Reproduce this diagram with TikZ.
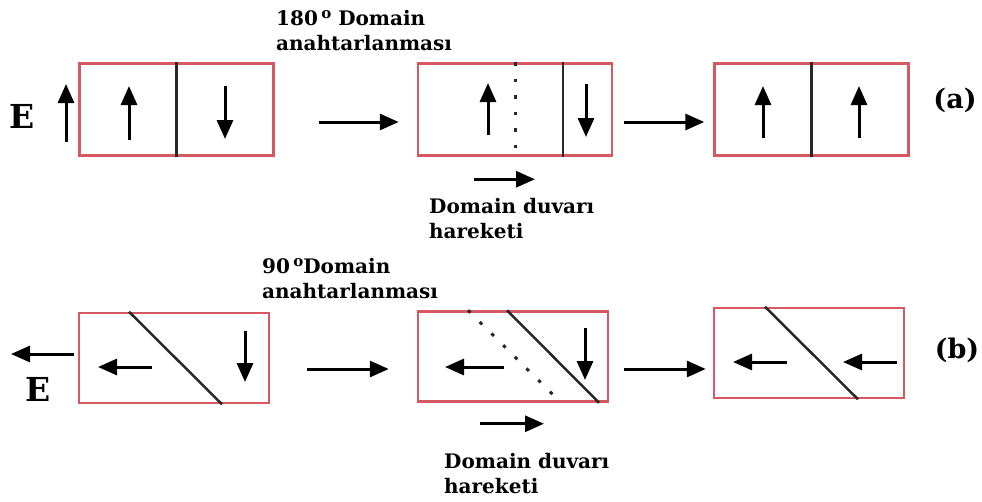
\documentclass[tikz,border=0pt]{standalone}
\usepackage{fontspec}
\setmainfont{DejaVu Serif}
\usetikzlibrary{arrows.meta}
\definecolor{WallRed}{RGB}{214,88,96}
\definecolor{WallInk}{RGB}{40,40,40}
\newcommand{\degsign}{\raisebox{0.38em}{\fontsize{15}{15}\selectfont o}}

\begin{document}
\begin{tikzpicture}[x=1pt, y=-1pt,
    dbox/.style={rectangle, draw=WallRed, line width=2.5pt, inner sep=0pt,
                 minimum width=194pt, minimum height=92pt},
    dboxb/.style={dbox, minimum width=190pt, minimum height=90pt},
    wall/.style={draw=WallInk, line width=2.5pt},
    oldwall/.style={wall, line width=3pt, dash pattern=on 3.5pt off 13pt},
    pol/.style={-{Triangle[length=19pt,width=16pt]}, line width=3pt},
    lbl/.style={align=left, inner sep=0pt, anchor=north west,
                font=\fontsize{20}{25}\selectfont\bfseries},
    big/.style={inner sep=0pt, anchor=base, font=\fontsize{33}{33}\selectfont\bfseries}
  ]
  \useasboundingbox (0,0) rectangle (982,501);

  % (a) 180 degree switching
  \node[dbox] (a1) at (176.5,109.5) {};
  \node[dbox] (a2) at (515,109.5) {};
  \node[dbox] (a3) at (811.5,109.5) {};

  \draw[wall] (a1.north) -- (a1.south);
  \draw[oldwall] (a2.north) -- (a2.south);
  \draw[wall] ([xshift=48pt]a2.north) -- ([xshift=48pt]a2.south);
  \draw[wall] (a3.north) -- (a3.south);

  \draw[pol] (129,140) -- (129,86);
  \draw[pol] (225,86) -- (225,139);
  \draw[pol] (488,135) -- (488,83);
  \draw[pol] (586,84) -- (586,137);
  \draw[pol] (763,138) -- (763,86);
  \draw[pol] (859,138) -- (859,86);

  \node[big] (Ea) at (22,128) {E};
  \draw[pol] (66,142) -- (66,84);
  \node[big, font=\fontsize{27}{27}\selectfont\bfseries] (la) at (955,108) {(a)};

  \node[lbl] (sw180) at (276,10) {180\,\degsign\ Domain\\anahtarlanması};
  \node[lbl] (mva) at (429,198) {Domain duvarı\\hareketi};

  \draw[pol] ([xshift=44pt,yshift=-12.5pt]a1.east) -- ([xshift=-18pt,yshift=-12.5pt]a2.west);
  \draw[pol] ([xshift=11pt,yshift=-12.5pt]a2.east) -- ([xshift=-9pt,yshift=-12.5pt]a3.west);
  \draw[pol] ([xshift=-41pt,yshift=-22.5pt]a2.south) -- ([xshift=20pt,yshift=-22.5pt]a2.south);

  % (b) 90 degree switching
  \node[dboxb] (b1) at (174,358) {};
  \node[dboxb] (b2) at (513,356.5) {};
  \node[dboxb] (b3) at (809,353) {};

  \draw[wall] ([xshift=-45pt]b1.north) -- ([xshift=48pt]b1.south);
  \draw[oldwall] ([xshift=-45pt]b2.north) -- ([xshift=48pt]b2.south);
  \draw[wall] ([xshift=-6pt]b2.north) -- ([xshift=86pt]b2.south);
  \draw[wall] ([xshift=-44pt]b3.north) -- ([xshift=49pt]b3.south);

  \draw[pol] (152,367) -- (98,367);
  \draw[pol] (245,331) -- (245,382);
  \draw[pol] (504,367) -- (445,367);
  \draw[pol] (585,328) -- (585,380);
  \draw[pol] (787,362) -- (733,362);
  \draw[pol] (897,362) -- (843,362);

  \node[big] (Eb) at (38,401) {E};
  \draw[pol] (74,354) -- (11,354);
  \node[big, font=\fontsize{27}{27}\selectfont\bfseries] (lb) at (957,358) {(b)};

  \node[lbl] (sw90) at (262,258) {90\,\degsign Domain\\anahtarlanması};
  \node[lbl] (mvb) at (444,453) {Domain duvarı\\hareketi};

  \draw[pol] ([xshift=37pt,yshift=-11pt]b1.east) -- ([xshift=-28pt,yshift=-12.5pt]b2.west);
  \draw[pol] ([xshift=15pt,yshift=-12.5pt]b2.east) -- ([xshift=-7pt,yshift=-16pt]b3.west);
  \draw[pol] ([xshift=-33pt,yshift=-21pt]b2.south) -- ([xshift=31pt,yshift=-21pt]b2.south);
\end{tikzpicture}
\end{document}
